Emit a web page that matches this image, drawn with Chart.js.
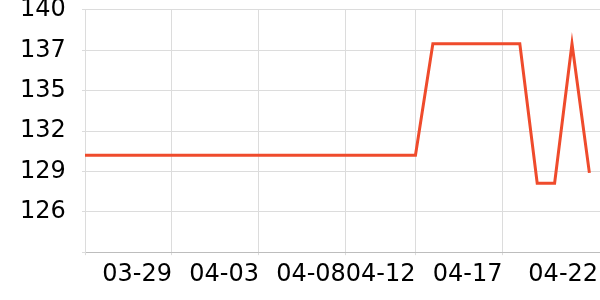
<!DOCTYPE html>
<html>
<head>
<meta charset="utf-8">
<script src="https://cdn.jsdelivr.net/npm/chart.js@4"></script>
<style>
  html, body { margin: 0; padding: 0; background: #fff; }
  #wrap { width: 600px; height: 300px; }
</style>
</head>
<body>
<div id="wrap"><canvas id="weightChart"></canvas></div>
<script>
// ---------- Data ----------
const dates = [
  "03-24", "03-25", "03-26", "03-27", "03-28", "03-29", "03-30", "03-31",
  "04-01", "04-02", "04-03", "04-04", "04-05", "04-06", "04-07", "04-08",
  "04-09", "04-10", "04-11", "04-12", "04-13", "04-14", "04-15", "04-16",
  "04-17", "04-18", "04-19", "04-20", "04-21", "04-22"
];
const weights = [
  130.1, 130.1, 130.1, 130.1, 130.1, 130.1, 130.1, 130.1,
  130.1, 130.1, 130.1, 130.1, 130.1, 130.1, 130.1, 130.1,
  130.1, 130.1, 130.1, 130.1, 137.7, 137.7, 137.7, 137.7,
  137.7, 137.7, 128.2, 128.2, 137.7, 128.9
];
const xTickDays = [0, 5, 10, 15, 19, 24, 29];
const yTicks = [123.5, 126.25, 129, 131.75, 134.5, 137.25, 140];

const X_MAX = 29.61;        // axis runs a little past the last day
const LAST_LABEL_AT = 29.5; // last date label is pushed to the right edge

// ---------- Chart ----------
const points = weights.map((w, i) => ({ x: i, y: w }));

const ctx = document.getElementById("weightChart").getContext("2d");
new Chart(ctx, {
  type: "line",
  data: {
    datasets: [{
      data: points,
      borderColor: "#ef4b2c",
      borderWidth: 3,
      pointRadius: 0,
      tension: 0,
      fill: false
    }]
  },
  options: {
    responsive: true,
    maintainAspectRatio: false,
    animation: false,
    layout: { padding: { left: 20, right: 0, top: 0, bottom: 5 } },
    plugins: { legend: { display: false }, tooltip: { enabled: false } },
    scales: {
      x: {
        type: "linear",
        min: 0,
        max: X_MAX,
        afterBuildTicks: scale => {
          scale.ticks = xTickDays.map(d => ({ value: d === 29 ? LAST_LABEL_AT : d }));
        },
        ticks: {
          align: "end",
          padding: 0,
          color: "#000",
          font: { family: "DejaVu Sans", size: 24, lineHeight: 1.66 },
          autoSkip: false,
          maxRotation: 0,
          callback: v => (v === 0 ? "" : dates[Math.floor(v)])
        },
        grid: {
          color: c => (c.tick && c.tick.value === LAST_LABEL_AT ? "rgba(0,0,0,0)" : "#dcdcdc"),
          tickLength: 3
        },
        border: { color: "#bdbdbd" }
      },
      y: {
        type: "linear",
        min: 123.5,
        max: 140,
        afterBuildTicks: scale => {
          scale.ticks = yTicks.map(v => ({ value: v }));
        },
        afterFit: scale => { scale.width = 65; },
        ticks: {
          padding: 0,
          crossAlign: "far",
          color: "#000",
          font: { family: "DejaVu Sans", size: 24, lineHeight: 0.83 },
          callback: v => (v === 123.5 ? "" : Math.round(v))
        },
        grid: { color: "#dcdcdc", tickLength: 3 },
        border: { color: "#dcdcdc" }
      }
    }
  }
});
</script>
</body>
</html>
